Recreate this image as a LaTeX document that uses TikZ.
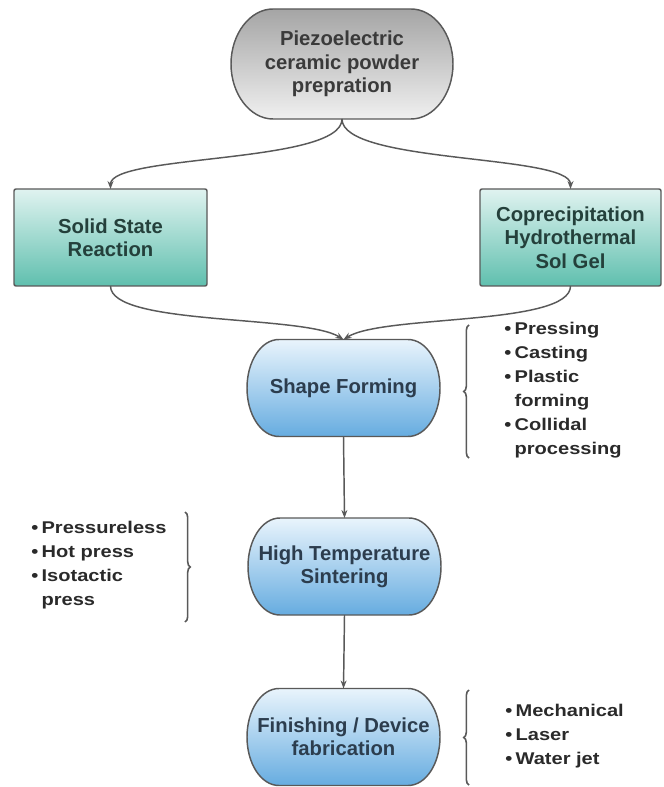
\documentclass[tikz,border=0pt]{standalone}
\usepackage{fontspec}
\setmainfont{Liberation Sans}
\newfontfamily\bulletfont{Liberation Sans}[FakeStretch=1.18]
\usetikzlibrary{arrows.meta,decorations.pathreplacing,calc,backgrounds}
\definecolor{edgegray}{HTML}{595959}
\definecolor{graytop}{HTML}{A5A5A5}
\definecolor{graybot}{HTML}{F0F0F0}
\definecolor{tealtop}{HTML}{E0F3F0}
\definecolor{tealbot}{HTML}{5FBFAE}
\definecolor{bluetop}{HTML}{E9F4FC}
\definecolor{bluebot}{HTML}{66ACE0}
\definecolor{txtgray}{HTML}{3A3A3A}
\definecolor{txtteal}{HTML}{24403B}
\definecolor{txtblue}{HTML}{2C3D4E}
\definecolor{listtxt}{HTML}{2A2A2A}
\tikzset{
  basebox/.style={align=center, inner sep=2pt, outer sep=0pt,
    font=\fontsize{15.2}{17.5}\selectfont\bfseries},
  graypill/.style={basebox, text=txtgray, minimum width=166.5pt, minimum height=82.5pt},
  tealbox/.style={basebox, draw=edgegray, line width=1.1pt, rounded corners=1.5pt,
    top color=tealtop, bottom color=tealbot, text=txtteal, minimum height=72.75pt},
  bluepill/.style={basebox, text=txtblue, minimum width=144.75pt, minimum height=72.75pt},
  pilledge/.style={draw=edgegray, line width=1.1pt},
  conn/.style={draw=edgegray, line width=1.1pt, -{Stealth[length=6pt,width=4.5pt]}},
  bracestyle/.style={draw=edgegray, line width=1.2pt, decorate,
    decoration={brace, amplitude=4pt}},
  listnode/.style={align=left, inner sep=0pt, text=listtxt,
    font=\bulletfont\fontsize{12.75}{18}\selectfont\bfseries}
}
% #1 node, #2 top colour, #3 bottom colour, #4 straight-edge inset, #5 handle, #6 drop
\newcommand\pillbg[6]{%
 \path[pilledge, top color=#2, bottom color=#3]
  ($(#1.north west)+(#4,0)$) -- ($(#1.north east)+(-#4,0)$)
  .. controls ($(#1.north east)+(-#5,0)$) and ($(#1.north east)+(0,#6)$) .. (#1.east)
  .. controls ($(#1.south east)+(0,-#6)$) and ($(#1.south east)+(-#5,0)$) .. ($(#1.south east)+(-#4,0)$)
  -- ($(#1.south west)+(#4,0)$)
  .. controls ($(#1.south west)+(#5,0)$) and ($(#1.south west)+(0,-#6)$) .. (#1.west)
  .. controls ($(#1.north west)+(0,#6)$) and ($(#1.north west)+(#5,0)$) .. cycle;}
\newcommand\bl{•\hspace{2.5pt}}
\newcommand\bc{\phantom{•}\hspace{2.5pt}}
\begin{document}
\begin{tikzpicture}[x=0.75pt,y=-0.75pt]
\useasboundingbox (0,0) rectangle (663,787);
% nodes
\node[graypill] (top) at (342,64) {Piezoelectric\\ceramic powder\\prepration};
\node[tealbox, minimum width=144.75pt] (ssr) at (110.5,237.5) {Solid State\\Reaction};
\node[tealbox, minimum width=135.75pt] (cop) at (570.5,237.5) {Coprecipitation\\Hydrothermal\\Sol Gel};
\node[bluepill] (shape) at (343.5,388) {Shape Forming};
\node[bluepill] (sint) at (344.5,566.5) {High Temperature\\Sintering};
\node[bluepill] (fin) at (343.5,737) {Finishing / Device\\fabrication};
\begin{scope}[on background layer]
\pillbg{top}{graytop}{graybot}{42}{19}{25}
\pillbg{shape}{bluetop}{bluebot}{32}{14}{22}
\pillbg{sint}{bluetop}{bluebot}{32}{14}{22}
\pillbg{fin}{bluetop}{bluebot}{32}{14}{22}
\end{scope}
% connectors
\draw[conn] (top.south) .. controls +(0,45) and +(0,-35) .. (ssr.north);
\draw[conn] (top.south) .. controls +(0,45) and +(0,-35) .. (cop.north);
\draw[conn] (ssr.south) .. controls +(0,40) and +(-40,-25) .. (shape.north);
\draw[conn] (cop.south) .. controls +(0,40) and +(40,-25) .. (shape.north);
\draw[conn] (shape.south) -- (sint.north);
\draw[conn] (sint.south) -- (fin.north);
% braces
\coordinate (b1a) at (469,458);
\coordinate (b1b) at (469,325);
\draw[bracestyle] (b1a) -- (b1b);
\coordinate (b2a) at (185,512);
\coordinate (b2b) at (185,622);
\draw[bracestyle] (b2a) -- (b2b);
\coordinate (b3a) at (469,785);
\coordinate (b3b) at (469,690);
\draw[bracestyle] (b3a) -- (b3b);
% lists
\node[listnode, anchor=west] (l1) at (504,390) {\bl Pressing\\\bl Casting\\\bl Plastic\\\bc forming\\\bl Collidal\\\bc processing};
\node[listnode, anchor=west] (l2) at (31,565) {\bl Pressureless\\\bl Hot press\\\bl Isotactic\\\bc press};
\node[listnode, anchor=west] (l3) at (505,736) {\bl Mechanical\\\bl Laser\\\bl Water jet};
\end{tikzpicture}
\end{document}
